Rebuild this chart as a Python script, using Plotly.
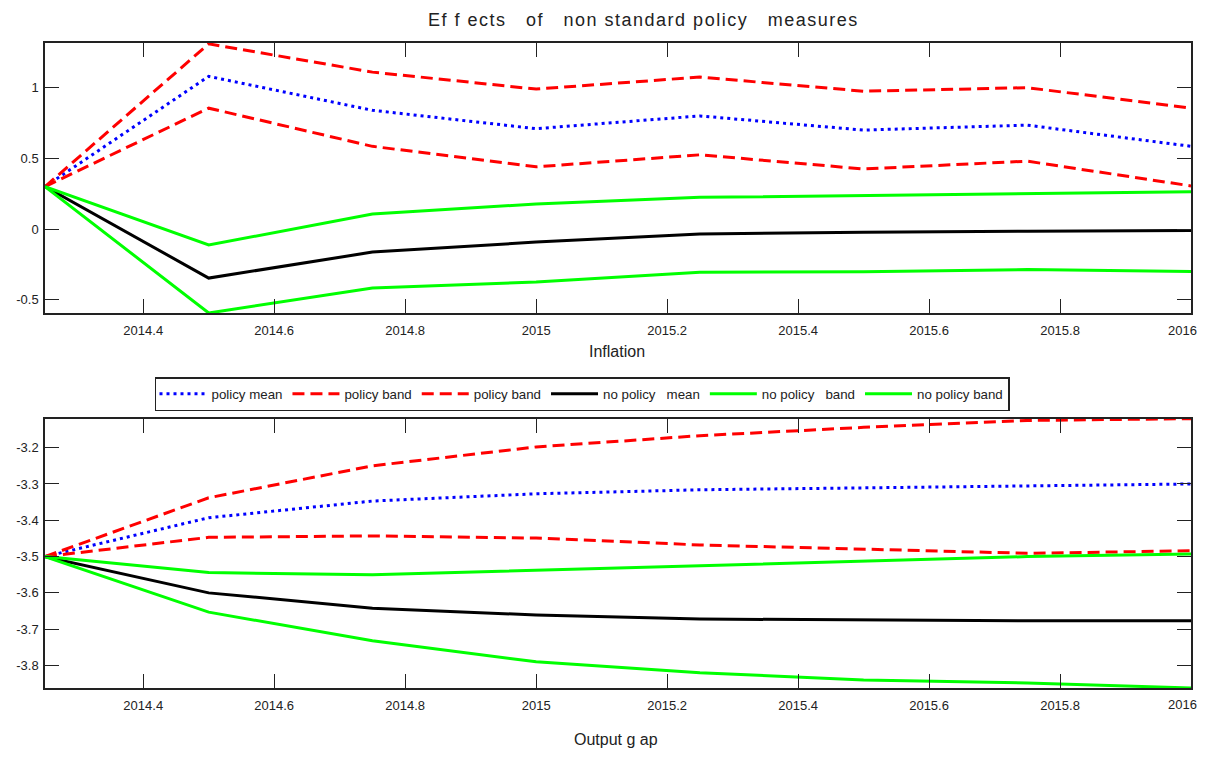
import plotly.graph_objects as go

quarters = [2014.25, 2014.5, 2014.75, 2015.0, 2015.25, 2015.5, 2015.75, 2016.0]

# Inflation panel
inf_policy_mean = [0.30, 1.08, 0.84, 0.71, 0.80, 0.70, 0.735, 0.585]
inf_policy_upper = [0.30, 1.31, 1.11, 0.99, 1.075, 0.975, 1.00, 0.855]
inf_policy_lower = [0.30, 0.855, 0.585, 0.44, 0.525, 0.425, 0.48, 0.305]
inf_nopolicy_mean = [0.30, -0.347, -0.163, -0.092, -0.035, -0.022, -0.015, -0.01]
inf_nopolicy_upper = [0.30, -0.113, 0.106, 0.177, 0.224, 0.236, 0.25, 0.264]
inf_nopolicy_lower = [0.30, -0.594, -0.417, -0.375, -0.305, -0.302, -0.287, -0.30]

# Output gap panel
og_policy_mean = [-3.50, -3.393, -3.347, -3.327, -3.316, -3.310, -3.304, -3.300]
og_policy_upper = [-3.50, -3.338, -3.250, -3.198, -3.167, -3.144, -3.125, -3.120]
og_policy_lower = [-3.50, -3.447, -3.443, -3.449, -3.468, -3.479, -3.491, -3.484]
og_nopolicy_mean = [-3.50, -3.600, -3.642, -3.661, -3.672, -3.675, -3.677, -3.677]
og_nopolicy_upper = [-3.50, -3.544, -3.550, -3.537, -3.526, -3.512, -3.500, -3.493]
og_nopolicy_lower = [-3.50, -3.653, -3.732, -3.790, -3.820, -3.840, -3.848, -3.862]

x_ticks = [2014.4, 2014.6, 2014.8, 2015.0, 2015.2, 2015.4, 2015.6, 2015.8, 2016.0]
x_ticklabels = ["2014.4", "2014.6", "2014.8", "2015", "2015.2", "2015.4", "2015.6", "2015.8", "2016"]
inf_yticks = [-0.5, 0, 0.5, 1]
inf_yticklabels = ["-0.5", "0", "0.5", "1"]
og_yticks = [-3.8, -3.7, -3.6, -3.5, -3.4, -3.3, -3.2]
og_yticklabels = ["-3.8", "-3.7", "-3.6", "-3.5", "-3.4", "-3.3", "-3.2"]

names = ["policy mean", "policy band", "policy band", "no policy&nbsp;&nbsp; mean",
         "no policy&nbsp;&nbsp; band", "no policy band"]
colors = ["#0000FF", "#FF0000", "#FF0000", "#000000", "#00FF00", "#00FF00"]
dashes = ["3px,4px", "12px,6px", "12px,6px", "solid", "solid", "solid"]

inf_series = [inf_policy_mean, inf_policy_upper, inf_policy_lower,
              inf_nopolicy_mean, inf_nopolicy_upper, inf_nopolicy_lower]
og_series = [og_policy_mean, og_policy_upper, og_policy_lower,
             og_nopolicy_mean, og_nopolicy_upper, og_nopolicy_lower]

fig = go.Figure()
for i, (ys, nm, c, d) in enumerate(zip(inf_series, names, colors, dashes)):
    fig.add_trace(go.Scatter(x=quarters, y=ys, mode="lines", name=nm,
                             line=dict(color=c, width=3, dash=d),
                             xaxis="x", yaxis="y", showlegend=True,
                             legendgroup=str(i)))
for i, (ys, nm, c, d) in enumerate(zip(og_series, names, colors, dashes)):
    fig.add_trace(go.Scatter(x=quarters, y=ys, mode="lines", name=nm,
                             line=dict(color=c, width=3, dash=d),
                             xaxis="x2", yaxis="y2", showlegend=False,
                             legendgroup=str(i)))

# page body has an 8px margin; keep the figure inside the window
OFF = 8
W, H = 1207 - 2 * OFF - 2, 759 - 2 * OFF - 2
def px(p):
    return (p - OFF) / W
def py(p):
    return 1 - (p - OFF) / H

axis_common = dict(showline=True, linecolor="#222", linewidth=1.5, mirror="allticks",
                   ticks="inside", ticklen=14, tickcolor="#222", tickwidth=1,
                   showgrid=False, zeroline=False,
                   tickfont=dict(family="Liberation Sans, Arial", size=13, color="#222"))

# the last x label sits at the page edge: draw it at the axis value, nudged inside the page
main_xticktext = x_ticklabels[:-1] + [""]
edge_labels = [
    dict(text=x_ticklabels[-1], x=x_ticks[-1], xref="x", y=py(330), yref="paper",
         xshift=-9, showarrow=False, xanchor="center", yanchor="middle",
         font=dict(family="Liberation Sans, Arial", size=13, color="#222")),
    dict(text=x_ticklabels[-1], x=x_ticks[-1], xref="x2", y=py(704), yref="paper",
         xshift=-9, showarrow=False, xanchor="center", yanchor="middle",
         font=dict(family="Liberation Sans, Arial", size=13, color="#222")),
]

fig.update_layout(
    width=W, height=H,
    margin=dict(l=0, r=0, t=0, b=0),
    paper_bgcolor="white", plot_bgcolor="white",
    font=dict(family="Liberation Sans, Arial", color="#222"),
    xaxis=dict(domain=[px(45), px(1191)], range=[2014.25, 2016.0], anchor="y",
               tickvals=x_ticks, ticktext=main_xticktext, ticklabelstandoff=5, **axis_common),
    yaxis=dict(domain=[py(313), py(43)], range=[-0.594, 1.316], anchor="x",
               tickvals=inf_yticks, ticktext=inf_yticklabels, ticklabelstandoff=2, **axis_common),
    xaxis2=dict(domain=[px(45), px(1191)], range=[2014.25, 2016.0], anchor="y2",
                tickvals=x_ticks, ticktext=main_xticktext, ticklabelstandoff=5, **axis_common),
    yaxis2=dict(domain=[py(688), py(419)], range=[-3.862, -3.121], anchor="x2",
                tickvals=og_yticks, ticktext=og_yticklabels, ticklabelstandoff=2, **axis_common),
    legend=dict(orientation="h", x=px(582), y=py(394), xanchor="center", yanchor="middle",
                bordercolor="#222", borderwidth=1.5, bgcolor="white",
                font=dict(family="Liberation Sans, Arial", size=13.3, color="#222"),
                itemwidth=47, tracegroupgap=0),
    showlegend=True,
    annotations=[
        dict(text='<span style="letter-spacing:1.5px">Ef f ects&nbsp;&nbsp; of&nbsp;&nbsp; non standard policy&nbsp;&nbsp; measures</span>',
             x=px(644), y=py(20),
             xref="paper", yref="paper", showarrow=False, xanchor="center", yanchor="middle",
             font=dict(size=18, color="#222")),
        dict(text="Inflation", x=px(617), y=py(352), xref="paper", yref="paper",
             showarrow=False, xanchor="center", yanchor="middle", font=dict(size=16, color="#222")),
        dict(text="Output g ap", x=px(616), y=py(739), xref="paper", yref="paper",
             showarrow=False, xanchor="center", yanchor="middle", font=dict(size=16, color="#222")),
    ] + edge_labels,
)

fig.write_html("out.html")
